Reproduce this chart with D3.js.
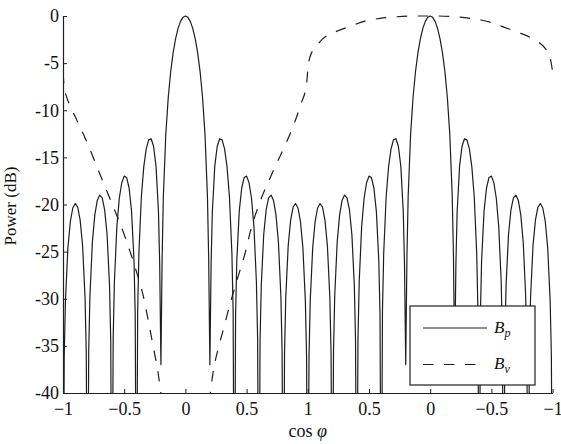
<!DOCTYPE html>
<html>
<head>
<meta charset="utf-8">
<script src="https://cdn.jsdelivr.net/npm/d3@7"></script>
<style>
body { margin: 0; background: #fff; }
svg { display: block; font-family: "Liberation Serif", "DejaVu Serif", serif; }
</style>
</head>
<body>
<script>
// position along the sweep: 0..4 (labels fold back at 1)
var xTickPos = [0, 0.5, 1, 1.5, 2, 2.5, 3, 3.5, 4];
var xTickLabels = ["\u22121", "\u22120.5", "0", "0.5", "1", "0.5", "0", "\u22120.5", "\u22121"];
var yTickPos = [0, -5, -10, -15, -20, -25, -30, -35, -40];
var yTickLabels = ["0", "-5", "-10", "-15", "-20", "-25", "-30", "-35", "-40"];

// B_p (solid) - nulls drop below -40 and get clipped
var bpPos = [
  0,0.01,0.02,0.04,0.06,0.08,0.1,0.12,0.14,0.16,0.18,0.19,
  0.2,0.21,0.22,0.24,0.26,0.28,0.3,0.32,0.34,0.36,0.38,0.39,
  0.4,0.41,0.42,0.44,0.46,0.48,0.5,0.52,0.54,0.56,0.58,0.59,
  0.6,0.61,0.62,0.64,0.66,0.68,0.7,0.72,0.74,0.76,0.78,0.79,
  0.8,0.81,0.82,0.84,0.86,0.88,0.9,0.92,0.94,0.96,0.98,1,
  1.02,1.04,1.06,1.08,1.1,1.12,1.14,1.16,1.18,1.19,1.2,1.21,
  1.22,1.24,1.26,1.28,1.3,1.32,1.34,1.36,1.38,1.39,1.4,1.41,
  1.42,1.44,1.46,1.48,1.5,1.52,1.54,1.56,1.58,1.59,1.6,1.61,
  1.62,1.64,1.66,1.68,1.7,1.72,1.74,1.76,1.78,1.79,1.8,1.81,
  1.82,1.84,1.86,1.88,1.9,1.92,1.94,1.96,1.98,1.99,2,
  2.01,2.02,2.04,2.06,2.08,2.1,2.12,2.14,2.16,2.18,2.19,
  2.2,2.21,2.22,2.24,2.26,2.28,2.3,2.32,2.34,2.36,2.38,2.39,
  2.4,2.41,2.42,2.44,2.46,2.48,2.5,2.52,2.54,2.56,2.58,2.59,
  2.6,2.61,2.62,2.64,2.66,2.68,2.7,2.72,2.74,2.76,2.78,2.79,
  2.8,2.81,2.82,2.84,2.86,2.88,2.9,2.92,2.94,2.96,2.98,3,
  3.02,3.04,3.06,3.08,3.1,3.12,3.14,3.16,3.18,3.19,3.2,3.21,
  3.22,3.24,3.26,3.28,3.3,3.32,3.34,3.36,3.38,3.39,3.4,3.41,
  3.42,3.44,3.46,3.48,3.5,3.52,3.54,3.56,3.58,3.59,3.6,3.61,
  3.62,3.64,3.66,3.68,3.7,3.72,3.74,3.76,3.78,3.79,3.8,3.81,
  3.82,3.84,3.86,3.88,3.9,3.92,3.94,3.96,3.98,3.99,4
];
var bpDb = [
  -60,-36.1,-30.2,-24.6,-21.8,-20.37,-19.89,-20.28,-21.63,-24.34,-29.85,-35.7,
  -60,-35.6,-29.7,-23.99,-21.1,-19.57,-19.0,-19.29,-20.54,-23.15,-28.55,-34.4,
  -60,-34.2,-28.2,-22.35,-19.34,-17.69,-16.99,-17.14,-18.25,-20.7,-25.95,-31.7,
  -60,-31.3,-25.2,-19.2,-15.98,-14.09,-13.14,-13.02,-13.82,-15.93,-20.8,-26.3,
  -37,-25.5,-19.11,-12.53,-8.62,-5.89,-3.89,-2.4,-1.31,-0.57,-0.14,0,
  -0.14,-0.57,-1.31,-2.4,-3.89,-5.89,-8.62,-12.53,-19.11,-25.5,-37,-26.3,
  -20.8,-15.93,-13.82,-13.02,-13.14,-14.09,-15.98,-19.2,-25.2,-31.3,-60,-31.7,
  -25.95,-20.7,-18.25,-17.14,-16.99,-17.69,-19.34,-22.35,-28.2,-34.2,-60,-34.4,
  -28.55,-23.15,-20.54,-19.29,-19.0,-19.57,-21.1,-23.99,-29.7,-35.6,-60,-35.7,
  -29.85,-24.34,-21.63,-20.28,-19.89,-20.37,-21.8,-24.6,-30.2,-36.1,-60,
  -36.1,-30.2,-24.6,-21.8,-20.37,-19.89,-20.28,-21.63,-24.34,-29.85,-35.7,
  -60,-35.6,-29.7,-23.99,-21.1,-19.57,-19.0,-19.29,-20.54,-23.15,-28.55,-34.4,
  -60,-34.2,-28.2,-22.35,-19.34,-17.69,-16.99,-17.14,-18.25,-20.7,-25.95,-31.7,
  -60,-31.3,-25.2,-19.2,-15.98,-14.09,-13.14,-13.02,-13.82,-15.93,-20.8,-26.3,
  -37,-25.5,-19.11,-12.53,-8.62,-5.89,-3.89,-2.4,-1.31,-0.57,-0.14,0,
  -0.14,-0.57,-1.31,-2.4,-3.89,-5.89,-8.62,-12.53,-19.11,-25.5,-37,-26.3,
  -20.8,-15.93,-13.82,-13.02,-13.14,-14.09,-15.98,-19.2,-25.2,-31.3,-60,-31.7,
  -25.95,-20.7,-18.25,-17.14,-16.99,-17.69,-19.34,-22.35,-28.2,-34.2,-60,-34.4,
  -28.55,-23.15,-20.54,-19.29,-19.0,-19.57,-21.1,-23.99,-29.7,-35.6,-60,-35.7,
  -29.85,-24.34,-21.63,-20.28,-19.89,-20.37,-21.8,-24.6,-30.2,-36.1,-60
];

// B_v (dashed), two visible pieces
var bvLeftPos = [0, 0.01, 0.03, 0.06, 0.1, 0.196, 0.302, 0.4, 0.506, 0.604, 0.654, 0.695, 0.736, 0.776, 0.81];
var bvLeftDb = [-6.0, -7.5, -8.6, -9.6, -10.7, -13.4, -16.8, -19.9, -23.4, -27.3, -29.6, -32.2, -35.0, -37.8, -41];
var bvRightPos = [1.195, 1.225, 1.266, 1.307, 1.364, 1.422, 1.487, 1.536, 1.593, 1.708, 1.822, 1.895, 1.953, 1.977, 1.993, 2.002, 2.018,
  2.07, 2.124, 2.206, 2.345, 2.467, 2.59, 2.729, 2.876, 3.047, 3.219, 3.325, 3.423, 3.513, 3.595, 3.709, 3.815, 3.897, 3.938, 3.979, 4.0];
var bvRightDb = [-41, -37.9, -35.4, -33.4, -30.6, -28.0, -25.2, -22.6, -20.3, -16.7, -13.5, -11.2, -9.0, -8.1, -6.8, -5.4, -4.35,
  -3.2, -2.4, -1.8, -1.1, -0.55, -0.25, -0.08, 0, 0, -0.1, -0.25, -0.45, -0.75, -1.15, -1.7, -2.25, -2.9, -3.4, -4.4, -5.9];

var legendBase = ["B", "B"];
var legendSub = ["p", "v"];

var width = 561;
var height = 444;
var padding = {top: 16, right: 8.4, bottom: 51, left: 63};
var ink = "#1e1e1e";
var dash = "10.5,10.5";

var svg = d3.select("body").append("svg")
    .attr("width", width)
    .attr("height", height);

var xScale = d3.scaleLinear()
    .domain([0, 4])
    .range([padding.left, width - padding.right]);
var yScale = d3.scaleLinear()
    .domain([-40, 0])
    .range([height - padding.bottom, padding.top]);

svg.append("clipPath").attr("id", "plotClip")
  .append("rect")
    .attr("x", xScale(0))
    .attr("y", 0)
    .attr("width", xScale(4) - xScale(0) + 2)
    .attr("height", yScale(-40));

var plot = svg.append("g").attr("clip-path", "url(#plotClip)");

var line = d3.line()
    .x(function(d) { return xScale(d[0]); })
    .y(function(d) { return yScale(d[1]); });

plot.append("path")
    .datum(bpPos.map(function(p, i) { return [p, bpDb[i]]; }))
    .attr("fill", "none")
    .attr("stroke", ink)
    .attr("stroke-width", 1.2)
    .attr("stroke-linejoin", "round")
    .attr("d", line);

var dashLine = d3.line()
    .x(function(d) { return xScale(d[0]); })
    .y(function(d) { return yScale(d[1]); })
    .curve(d3.curveMonotoneX);

[[bvLeftPos, bvLeftDb], [bvRightPos, bvRightDb]].forEach(function(s) {
    plot.append("path")
        .datum(s[0].map(function(p, i) { return [p, s[1][i]]; }))
        .attr("fill", "none")
        .attr("stroke", ink)
        .attr("stroke-width", 1.2)
        .attr("stroke-dasharray", dash)
        .attr("d", dashLine);
});

// axes, ticks point inward
var xAxis = d3.axisBottom(xScale)
    .tickValues(xTickPos)
    .tickFormat(function(d, i) { return xTickLabels[i]; })
    .tickSizeInner(-4)
    .tickSizeOuter(0)
    .tickPadding(9);
var yAxis = d3.axisLeft(yScale)
    .tickValues(yTickPos)
    .tickFormat(function(d, i) { return yTickLabels[i]; })
    .tickSizeInner(-4)
    .tickSizeOuter(0)
    .tickPadding(4);

var xAxisG = svg.append("g")
    .attr("transform", "translate(0," + yScale(-40) + ")")
    .call(xAxis);
var yAxisG = svg.append("g")
    .attr("transform", "translate(" + xScale(0) + ",0)")
    .call(yAxis);

[xAxisG, yAxisG].forEach(function(g) {
    g.attr("font-family", null).attr("font-size", null);
    g.select(".domain").attr("stroke", ink).attr("stroke-width", 1.2);
    g.selectAll(".tick line").attr("stroke", ink).attr("stroke-width", 1);
    g.selectAll(".tick text").attr("fill", "#111").style("font-size", "18px");
});

// legend
var legend = svg.append("g");
legend.append("rect")
    .attr("x", 410).attr("y", 306)
    .attr("width", 125).attr("height", 79)
    .attr("fill", "#fff")
    .attr("stroke", ink)
    .attr("stroke-width", 1.2);
legendBase.forEach(function(b, i) {
    var ly = 328 + i * 36.5;
    legend.append("line")
        .attr("x1", 423).attr("x2", i === 0 ? 487 : 481)
        .attr("y1", ly).attr("y2", ly)
        .attr("stroke", ink)
        .attr("stroke-width", 1.2)
        .attr("stroke-dasharray", i === 0 ? null : dash);
    var t = legend.append("text")
        .attr("x", 494).attr("y", ly + 4.5)
        .attr("fill", "#111")
        .style("font-style", "italic")
        .style("font-size", "17px");
    t.append("tspan").text(b);
    t.append("tspan").attr("dy", 4).style("font-size", "12px").text(legendSub[i]);
});

// axis titles
var xt = svg.append("text")
    .attr("x", (xScale(0) + xScale(4)) / 2)
    .attr("y", 437)
    .attr("text-anchor", "middle")
    .attr("fill", "#111")
    .style("font-size", "18px");
xt.append("tspan").text("cos ");
xt.append("tspan").style("font-style", "italic").text("\u03c6");

svg.append("text")
    .attr("transform", "translate(16,206) rotate(-90)")
    .attr("text-anchor", "middle")
    .attr("fill", "#111")
    .style("font-size", "17px")
    .text("Power (dB)");
</script>
</body>
</html>
